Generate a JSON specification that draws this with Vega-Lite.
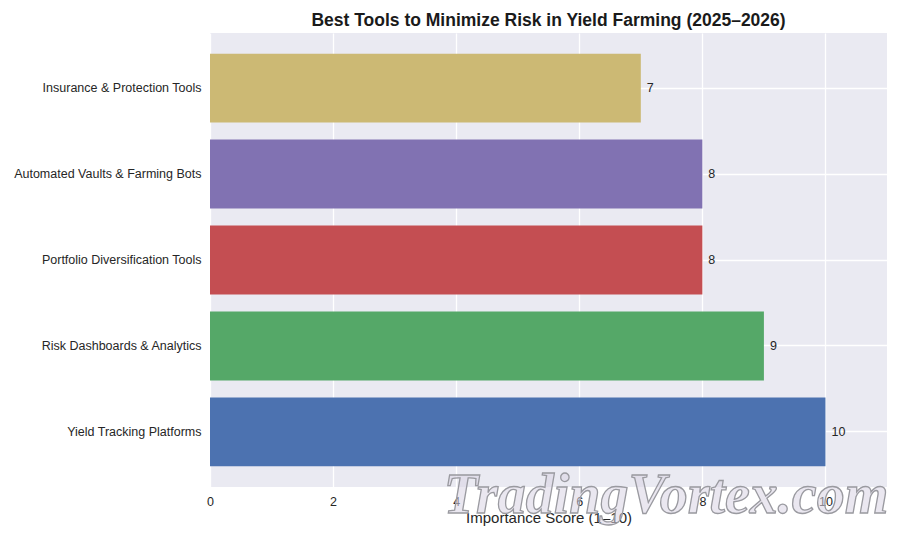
{
  "$schema": "https://vega.github.io/schema/vega-lite/v6.json",
  "width": 677,
  "height": 454,
  "padding": {"left": 210, "top": 33, "right": 13, "bottom": 53},
  "autosize": "none",
  "background": "white",
  "title": {"text": "Best Tools to Minimize Risk in Yield Farming (2025–2026)", "font": "Liberation Sans", "fontSize": 17.5, "fontWeight": "bold", "color": "#1a1a1a", "offset": 4},
  "data": {"values": [
    {"tool": "Insurance & Protection Tools", "score": 7, "color": "#CCB974"},
    {"tool": "Automated Vaults & Farming Bots", "score": 8, "color": "#8172B2"},
    {"tool": "Portfolio Diversification Tools", "score": 8, "color": "#C44E52"},
    {"tool": "Risk Dashboards & Analytics", "score": 9, "color": "#55A868"},
    {"tool": "Yield Tracking Platforms", "score": 10, "color": "#4C72B0"}
  ]},
  "config": {"view": {"fill": "#EAEAF2", "stroke": null}},
  "encoding": {
    "y": {"field": "tool", "type": "nominal", "sort": null, "title": null,
      "scale": {"paddingInner": 0.2, "paddingOuter": 0.24},
      "axis": {"grid": true, "gridColor": "white", "gridWidth": 1.3, "domain": false, "ticks": false, "labelFont": "Liberation Sans", "labelFontSize": 12.5, "labelColor": "#262626", "labelPadding": 9, "labelLimit": 220, "zindex": 0}},
    "x": {"field": "score", "type": "quantitative", "title": "Importance Score (1–10)",
      "scale": {"domain": [0, 11], "nice": false},
      "axis": {"values": [0, 2, 4, 6, 8, 10], "grid": true, "gridColor": "white", "gridWidth": 1.3, "domain": false, "ticks": false, "labelFlush": false, "labelFont": "Liberation Sans", "labelFontSize": 12.5, "labelColor": "#262626", "labelPadding": 8, "titleFont": "Liberation Sans", "titleFontSize": 15, "titleFontWeight": "normal", "titleColor": "#262626", "titlePadding": 3, "zindex": 0}}
  },
  "layer": [
    {"mark": {"type": "bar"}, "encoding": {"color": {"field": "color", "type": "nominal", "scale": null}}},
    {"mark": {"type": "text", "align": "left", "dx": 6, "font": "Liberation Sans", "fontSize": 12.5, "color": "#262626"}, "encoding": {"text": {"field": "score", "type": "quantitative"}}},
    {
      "data": {"values": [{"tool": "Yield Tracking Platforms", "score": 7.41, "label": "TradingVortex.com"}]},
      "mark": {"type": "text", "align": "center", "baseline": "middle", "dy": 64, "font": "Liberation Serif", "fontSize": 56, "fontWeight": "bold", "fontStyle": "italic", "fill": "#D8D4E4", "fillOpacity": 0.55, "stroke": "#9A9AA0", "strokeWidth": 1.3},
      "encoding": {"text": {"field": "label"}}
    }
  ]
}
